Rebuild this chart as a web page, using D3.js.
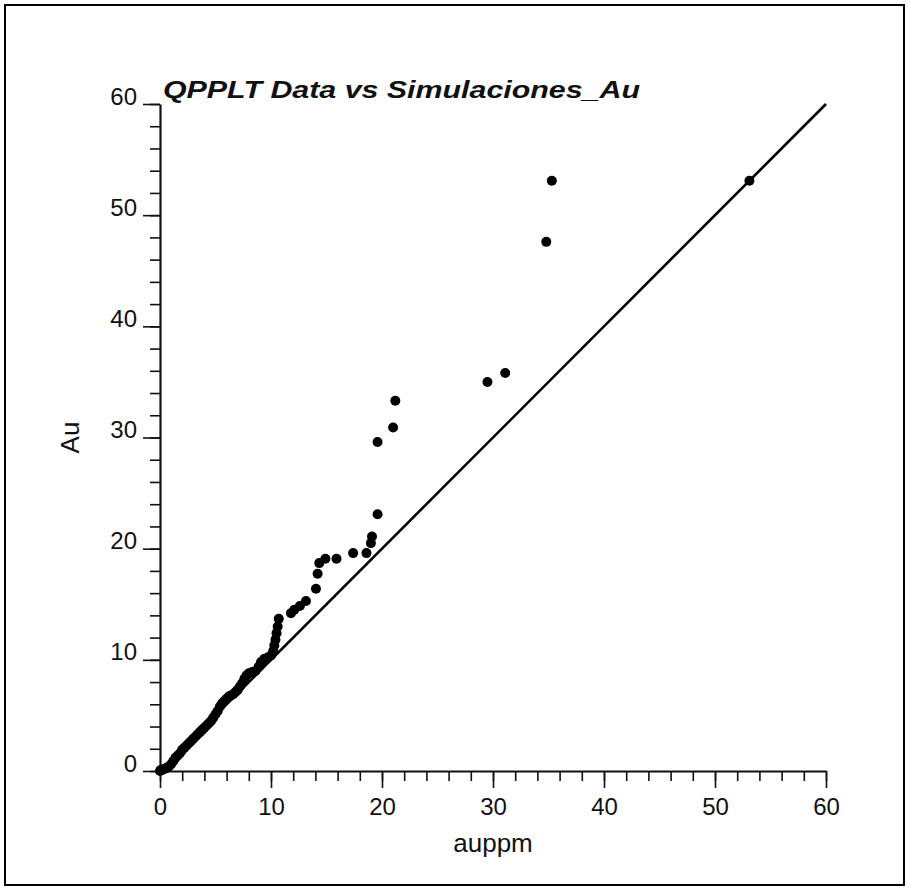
<!DOCTYPE html>
<html>
<head>
<meta charset="utf-8">
<script src="https://cdn.jsdelivr.net/npm/d3@7"></script>
<style>
  body { margin: 0; background: #fff; }
  svg { display: block; }
  text { font-family: "Liberation Sans", Arial, sans-serif; fill: #111; }
</style>
</head>
<body>
<script>
// QQ plot values: sorted data (auppm) vs sorted simulation (Au)
const auppm = [0, 0.05, 0.1, 0.2, 0.3, 0.45, 0.6, 0.8, 1.0, 1.2,
    1.4, 1.6, 1.8, 2.0, 2.2, 2.4, 2.6, 2.8, 3.0, 3.2,
    3.4, 3.6, 3.8, 4.0, 4.2, 4.4, 4.6, 4.8, 5.0, 5.2,
    5.4, 5.6, 5.8, 6.0, 6.2, 6.4, 6.6, 6.8, 7.0, 7.2,
    7.4, 7.6, 7.8, 8.0, 8.3, 8.6, 8.9, 9.1, 9.4, 9.7,
    10.0, 10.2, 10.3, 10.4, 10.5, 10.6, 10.7, 11.8, 12.1, 12.6,
    13.15, 14.05, 14.2, 14.35, 14.9, 15.9, 17.4, 18.6, 19.0, 19.1,
    19.6, 19.6, 21.0, 21.2, 29.5, 31.1, 34.8, 35.3, 53.1];
const au = [0, 0.05, 0.1, 0.1, 0.15, 0.2, 0.3, 0.4, 0.6, 0.9,
    1.2, 1.4, 1.6, 1.9, 2.1, 2.3, 2.5, 2.7, 2.9, 3.1,
    3.3, 3.5, 3.7, 3.9, 4.1, 4.3, 4.5, 4.8, 5.1, 5.4,
    5.8, 6.1, 6.3, 6.5, 6.7, 6.8, 6.9, 7.1, 7.3, 7.6,
    7.9, 8.3, 8.6, 8.8, 8.9, 9.0, 9.4, 9.8, 10.1, 10.2,
    10.4, 10.8, 11.3, 11.8, 12.4, 13.0, 13.7, 14.2, 14.5, 14.85,
    15.3, 16.4, 17.75, 18.7, 19.1, 19.1, 19.6, 19.6, 20.5, 21.1,
    23.1, 29.6, 30.9, 33.3, 35.0, 35.8, 47.6, 53.1, 53.1];
const majorTicks = [0, 10, 20, 30, 40, 50, 60];
const minorTicks = d3.range(0, 61, 2);
const refLine = [0, 60];

const W = 908, H = 890;
const m = {left: 160, right: 826, top: 104, bottom: 771};

const svg = d3.select("body").append("svg")
    .attr("width", W)
    .attr("height", H);

// outer frame
svg.append("rect")
    .attr("x", 5).attr("y", 5)
    .attr("width", 899).attr("height", 880)
    .attr("fill", "none")
    .attr("stroke", "#000")
    .attr("stroke-width", 2);

var x = d3.scaleLinear().domain([0, 60]).range([m.left, m.right]);
var y = d3.scaleLinear().domain([0, 60]).range([m.bottom, m.top]);

// minor ticks
svg.append("g")
    .attr("transform", "translate(0," + m.bottom + ")")
    .call(d3.axisBottom(x).tickValues(minorTicks).tickSize(10).tickSizeOuter(0).tickFormat(""))
    .call(g => g.select(".domain").remove());
svg.append("g")
    .attr("transform", "translate(" + m.left + ",0)")
    .call(d3.axisLeft(y).tickValues(minorTicks).tickSize(10).tickSizeOuter(0).tickFormat(""))
    .call(g => g.select(".domain").remove());

// major ticks + labels
var xAxis = svg.append("g")
    .attr("transform", "translate(0," + m.bottom + ")")
    .call(d3.axisBottom(x).tickValues(majorTicks).tickSize(17).tickSizeOuter(0));
xAxis.selectAll(".tick text")
    .attr("y", 44).attr("dy", null)
    .attr("font-size", 24)
    .attr("font-family", "Liberation Sans, Arial, sans-serif");

var yAxis = svg.append("g")
    .attr("transform", "translate(" + m.left + ",0)")
    .call(d3.axisLeft(y).tickValues(majorTicks).tickSize(17).tickSizeOuter(0));
yAxis.selectAll(".tick text")
    .attr("x", -23).attr("dy", null).attr("y", 0)
    .attr("font-size", 24)
    .attr("font-family", "Liberation Sans, Arial, sans-serif");

svg.selectAll(".tick line").attr("stroke", "#111").attr("stroke-width", 1.6);
svg.selectAll(".domain").attr("stroke", "#111").attr("stroke-width", 2.2);

// 1:1 reference line
svg.append("line")
    .attr("x1", x(refLine[0])).attr("y1", y(refLine[0]))
    .attr("x2", x(refLine[1])).attr("y2", y(refLine[1]))
    .attr("stroke", "#000")
    .attr("stroke-width", 2.6);

// points
svg.selectAll(".dot")
    .data(d3.zip(auppm, au))
    .enter().append("circle")
    .attr("class", "dot")
    .attr("cx", d => x(d[0]))
    .attr("cy", d => y(d[1]))
    .attr("r", 5)
    .attr("fill", "#000");

// title and axis labels
svg.append("text")
    .text("QPPLT Data vs Simulaciones_Au")
    .attr("x", 163)
    .attr("y", 98)
    .attr("font-size", 24)
    .attr("font-weight", "bold")
    .attr("font-style", "italic")
    .attr("textLength", 477)
    .attr("lengthAdjust", "spacingAndGlyphs");

svg.append("text")
    .text("auppm")
    .attr("x", (m.left + m.right) / 2)
    .attr("y", 852)
    .attr("text-anchor", "middle")
    .attr("font-size", 26);

svg.append("text")
    .text("Au")
    .attr("transform", "translate(79," + (m.top + m.bottom) / 2 + ") rotate(-90)")
    .attr("text-anchor", "middle")
    .attr("font-size", 26);
</script>
</body>
</html>
